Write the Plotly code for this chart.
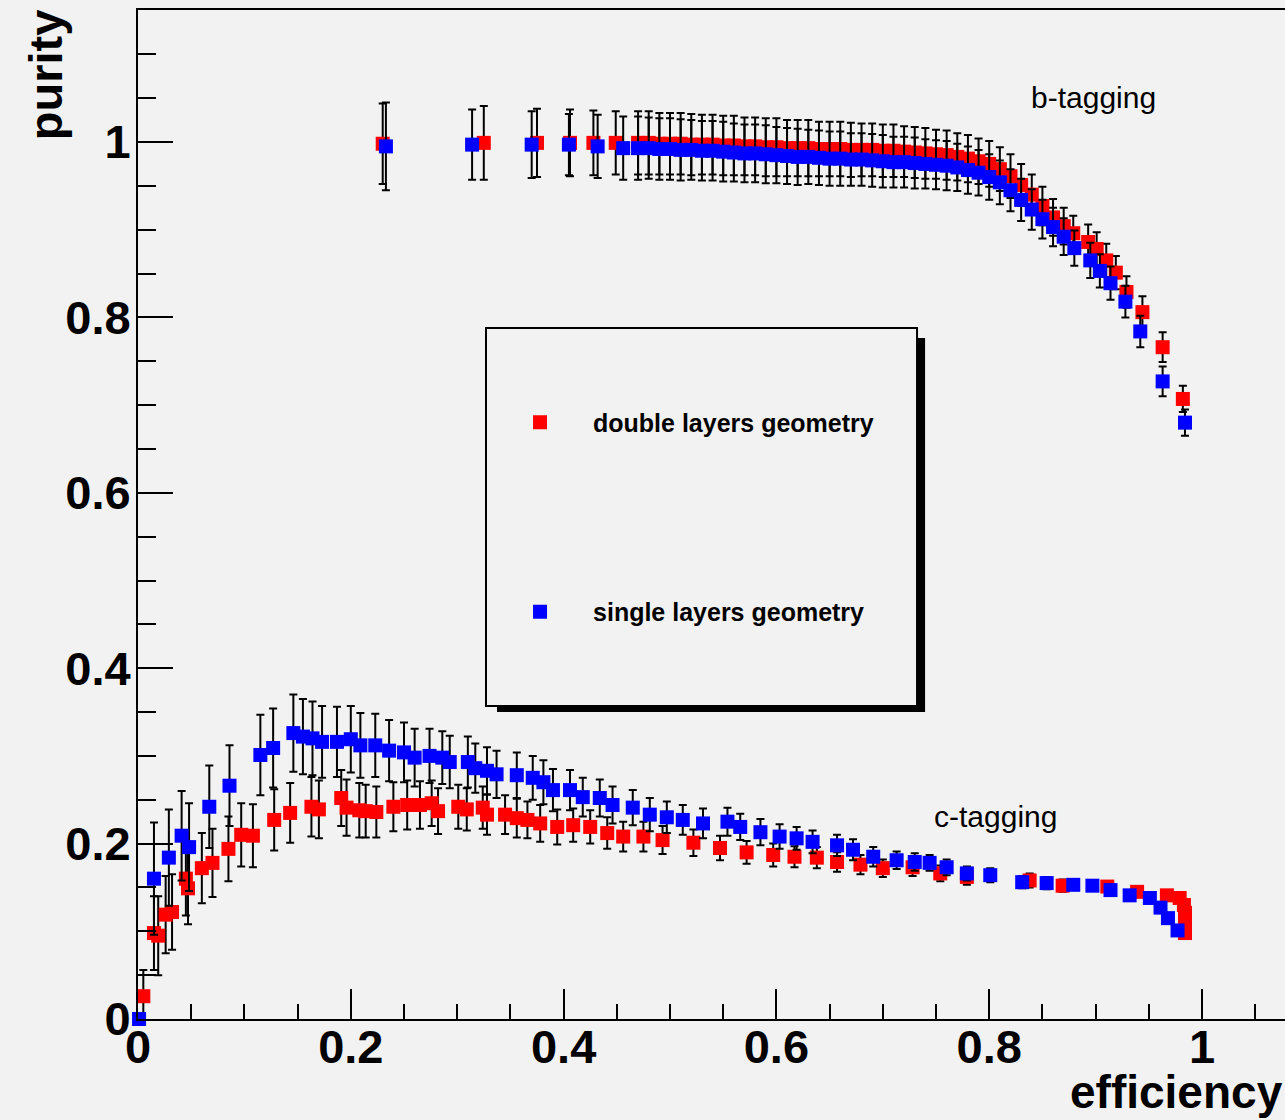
import plotly.graph_objects as go

# b-tagging, double layers geometry (red)
b_double_eff = [0.230, 0.325, 0.375, 0.406, 0.428, 0.449,
                0.47, 0.48, 0.49, 0.50, 0.51, 0.52, 0.53, 0.54, 0.55, 0.56,
                0.57, 0.58, 0.59, 0.60, 0.61, 0.62, 0.63, 0.64, 0.65, 0.66,
                0.67, 0.68, 0.69, 0.70, 0.71, 0.72, 0.73, 0.74, 0.75, 0.76,
                0.77, 0.78, 0.79, 0.80, 0.81, 0.82, 0.83, 0.84, 0.85, 0.86, 0.87,
                0.879, 0.893, 0.901, 0.910, 0.919, 0.929, 0.944, 0.963, 0.982]
b_double_pur = [0.998, 0.999, 0.999, 0.999, 0.999, 0.999,
                0.999, 0.999, 0.998, 0.998, 0.998, 0.997, 0.997, 0.997, 0.996, 0.996,
                0.995, 0.995, 0.994, 0.994, 0.993, 0.993, 0.993, 0.992, 0.992, 0.992,
                0.991, 0.991, 0.991, 0.990, 0.990, 0.989, 0.988, 0.987, 0.986, 0.985,
                0.983, 0.981, 0.978, 0.975, 0.969, 0.961, 0.951, 0.940, 0.927, 0.914, 0.904,
                0.896, 0.886, 0.878, 0.865, 0.851, 0.829, 0.806, 0.766, 0.707]
b_double_err = [0.046, 0.042, 0.039, 0.038, 0.037, 0.036,
                0.036, 0.036, 0.035, 0.035, 0.035, 0.035, 0.034, 0.034, 0.034, 0.034,
                0.033, 0.033, 0.033, 0.033, 0.032, 0.032, 0.032, 0.031, 0.031, 0.031,
                0.031, 0.030, 0.030, 0.030, 0.030, 0.029, 0.029, 0.029, 0.028, 0.028,
                0.027, 0.027, 0.026, 0.026, 0.025, 0.025, 0.024, 0.023, 0.022, 0.021, 0.021,
                0.020, 0.020, 0.019, 0.019, 0.019, 0.018, 0.018, 0.017, 0.015]

# b-tagging, single layers geometry (blue)
b_single_eff = [0.233, 0.314, 0.370, 0.405, 0.432, 0.456,
                0.47, 0.48, 0.49, 0.50, 0.51, 0.52, 0.53, 0.54, 0.55, 0.56,
                0.57, 0.58, 0.59, 0.60, 0.61, 0.62, 0.63, 0.64, 0.65, 0.66,
                0.67, 0.68, 0.69, 0.70, 0.71, 0.72, 0.73, 0.74, 0.75, 0.76,
                0.77, 0.78, 0.79, 0.80, 0.81, 0.82, 0.83, 0.84, 0.85, 0.86, 0.87, 0.88,
                0.895, 0.904, 0.914, 0.928, 0.942, 0.963, 0.984]
b_single_pur = [0.995, 0.997, 0.997, 0.997, 0.995, 0.993,
                0.993, 0.993, 0.992, 0.992, 0.991, 0.991, 0.990, 0.990, 0.989, 0.988,
                0.987, 0.987, 0.986, 0.985, 0.984, 0.983, 0.983, 0.982, 0.981, 0.981,
                0.980, 0.980, 0.979, 0.978, 0.977, 0.977, 0.976, 0.975, 0.974, 0.973,
                0.971, 0.968, 0.965, 0.960, 0.954, 0.945, 0.934, 0.923, 0.912, 0.903, 0.892, 0.879,
                0.865, 0.853, 0.839, 0.818, 0.784, 0.727, 0.680]
b_single_err = [0.050, 0.040, 0.038, 0.035, 0.036, 0.036,
                0.036, 0.035, 0.035, 0.035, 0.035, 0.034, 0.034, 0.034, 0.034, 0.033,
                0.033, 0.033, 0.033, 0.032, 0.032, 0.032, 0.031, 0.031, 0.031, 0.031,
                0.030, 0.030, 0.030, 0.030, 0.029, 0.029, 0.029, 0.028, 0.028, 0.028,
                0.027, 0.027, 0.026, 0.026, 0.025, 0.024, 0.024, 0.023, 0.022, 0.022, 0.021, 0.020,
                0.020, 0.019, 0.019, 0.018, 0.018, 0.017, 0.015]

# c-tagging, double layers geometry (red)
c_double_eff = [0.005, 0.015, 0.019, 0.026, 0.032, 0.045, 0.047, 0.060, 0.070, 0.085,
                0.097, 0.108, 0.128, 0.143, 0.163, 0.170, 0.191, 0.196, 0.208, 0.214,
                0.224, 0.240, 0.253, 0.265, 0.276, 0.282, 0.301, 0.309, 0.324, 0.328,
                0.345, 0.356, 0.366, 0.378, 0.394, 0.409, 0.425, 0.441, 0.456, 0.475,
                0.493, 0.522, 0.547, 0.572, 0.597, 0.617, 0.638, 0.657, 0.679, 0.700,
                0.728, 0.754, 0.779, 0.838, 0.869, 0.911, 0.939, 0.967, 0.979, 0.983,
                0.984, 0.984, 0.984]
c_double_pur = [0.026, 0.098, 0.095, 0.119, 0.122, 0.160, 0.149, 0.172, 0.178, 0.194,
                0.210, 0.209, 0.227, 0.235, 0.242, 0.239, 0.252, 0.241, 0.238, 0.237,
                0.236, 0.242, 0.244, 0.244, 0.246, 0.237, 0.242, 0.239, 0.241, 0.233,
                0.233, 0.229, 0.227, 0.223, 0.219, 0.221, 0.219, 0.212, 0.208, 0.208,
                0.204, 0.201, 0.195, 0.190, 0.187, 0.185, 0.184, 0.179, 0.176, 0.172,
                0.173, 0.166, 0.162, 0.158, 0.152, 0.151, 0.145, 0.141, 0.138, 0.130,
                0.121, 0.109, 0.098]
c_double_err = [0.030, 0.042, 0.045, 0.044, 0.043, 0.042, 0.041, 0.040, 0.039, 0.037,
                0.036, 0.036, 0.035, 0.034, 0.034, 0.033, 0.032, 0.032, 0.031, 0.030,
                0.029, 0.028, 0.028, 0.027, 0.026, 0.026, 0.025, 0.024, 0.024, 0.023,
                0.022, 0.022, 0.021, 0.021, 0.020, 0.019, 0.019, 0.018, 0.017, 0.017,
                0.016, 0.015, 0.014, 0.013, 0.013, 0.012, 0.012, 0.011, 0.011, 0.010,
                0.010, 0.009, 0.009, 0.008, 0.007, 0.006, 0.006, 0.005, 0.005, 0.005,
                0.005, 0.004, 0.004]

# c-tagging, single layers geometry (blue)
c_single_eff = [0.001, 0.015, 0.029, 0.041, 0.048, 0.067, 0.086, 0.115, 0.127, 0.146,
                0.155, 0.164, 0.173, 0.187, 0.200, 0.209, 0.223, 0.236, 0.250, 0.260,
                0.274, 0.286, 0.293, 0.310, 0.317, 0.328, 0.337, 0.356, 0.371, 0.381,
                0.390, 0.406, 0.418, 0.434, 0.446, 0.465, 0.481, 0.497, 0.512, 0.531,
                0.554, 0.566, 0.585, 0.603, 0.619, 0.634, 0.657, 0.672, 0.691, 0.713,
                0.730, 0.744, 0.760, 0.779, 0.801, 0.831, 0.854, 0.879, 0.897, 0.914,
                0.932, 0.951, 0.961, 0.968, 0.977]
c_single_pur = [0.000, 0.160, 0.184, 0.209, 0.196, 0.242, 0.266, 0.301, 0.309, 0.326,
                0.322, 0.320, 0.316, 0.316, 0.319, 0.312, 0.312, 0.306, 0.304, 0.298,
                0.300, 0.298, 0.293, 0.293, 0.286, 0.283, 0.279, 0.278, 0.275, 0.270,
                0.261, 0.261, 0.253, 0.252, 0.244, 0.241, 0.233, 0.230, 0.227, 0.223,
                0.225, 0.219, 0.213, 0.208, 0.206, 0.202, 0.198, 0.193, 0.185, 0.181,
                0.179, 0.178, 0.173, 0.166, 0.164, 0.156, 0.155, 0.153, 0.152, 0.147,
                0.141, 0.138, 0.127, 0.115, 0.101]
c_single_err = [0.000, 0.064, 0.055, 0.051, 0.050, 0.047, 0.046, 0.046, 0.045, 0.044,
                0.043, 0.042, 0.041, 0.040, 0.038, 0.037, 0.036, 0.035, 0.034, 0.033,
                0.031, 0.030, 0.030, 0.029, 0.028, 0.027, 0.027, 0.026, 0.025, 0.025,
                0.024, 0.023, 0.022, 0.021, 0.021, 0.020, 0.019, 0.018, 0.017, 0.017,
                0.016, 0.015, 0.015, 0.014, 0.013, 0.013, 0.012, 0.012, 0.011, 0.010,
                0.010, 0.009, 0.009, 0.008, 0.008, 0.007, 0.007, 0.006, 0.006, 0.006,
                0.005, 0.005, 0.005, 0.005, 0.005]

RED = '#ff0000'
BLUE = '#0000ff'
BG = '#f2f2f2'
BOLD = dict(family='Liberation Sans, Arial, sans-serif', weight='bold', color='black')


def series(x, y, err, color, name, group, show):
	return go.Scatter(
		x=x, y=y, mode='markers', name=name,
		legendgroup=group, showlegend=show, cliponaxis=False,
		marker=dict(symbol='square', size=14, color=color, line=dict(width=0)),
		error_y=dict(type='data', array=err, visible=True, color='black', thickness=2, width=4),
	)


fig = go.Figure()
fig.add_trace(series(b_double_eff, b_double_pur, b_double_err, RED, 'double layers geometry', 'double', True))
fig.add_trace(series(c_double_eff, c_double_pur, c_double_err, RED, 'double layers geometry', 'double', False))
fig.add_trace(series(b_single_eff, b_single_pur, b_single_err, BLUE, 'single layers geometry', 'single', True))
fig.add_trace(series(c_single_eff, c_single_pur, c_single_err, BLUE, 'single layers geometry', 'single', False))

# legend frame with ROOT-like shadow
fig.add_shape(type='rect', xref='paper', yref='paper', x0=0.3130, x1=0.6862, y0=0.3043, y1=0.6749,
              fillcolor='black', line=dict(width=0), layer='above')
fig.add_shape(type='rect', xref='paper', yref='paper', x0=0.3034, x1=0.6792, y0=0.3102, y1=0.6848,
              fillcolor=BG, line=dict(color='black', width=2), layer='above')

fig.add_annotation(x=0.898, y=1.051, xref='x', yref='y', text='b-tagging', showarrow=False,
                   font=dict(family='Liberation Sans, Arial, sans-serif', size=30, color='black'))
fig.add_annotation(x=0.806, y=0.231, xref='x', yref='y', text='c-tagging', showarrow=False,
                   font=dict(family='Liberation Sans, Arial, sans-serif', size=30, color='black'))
fig.add_annotation(x=1.0, y=-0.1005, xref='paper', yref='paper', xanchor='right', yanchor='bottom',
                   text='efficiency', showarrow=False, font=dict(BOLD, size=46))
fig.add_annotation(x=-0.0800, y=0.9356, xref='paper', yref='paper', xanchor='center', yanchor='middle',
                   text='purity', textangle=-90, showarrow=False, font=dict(BOLD, size=47))

fig.update_layout(
	width=1285, height=1120,
	margin=dict(l=138, r=0, t=10, b=101, autoexpand=False),
	paper_bgcolor=BG, plot_bgcolor=BG,
	showlegend=True,
	legend=dict(x=0.3043, y=0.614, xanchor='left', yanchor='top', bgcolor='rgba(0,0,0,0)',
	            borderwidth=0, traceorder='grouped', tracegroupgap=154, itemwidth=96,
	            font=dict(BOLD, size=25)),
)
fig.update_xaxes(
	range=[0, 1.078], showgrid=False, zeroline=False,
	showline=True, linecolor='black', linewidth=2, mirror=True,
	ticks='inside', ticklen=30, tickwidth=2, tickcolor='black',
	tick0=0, dtick=0.2, tickfont=dict(BOLD, size=47), ticklabelstandoff=-14,
	minor=dict(ticks='inside', ticklen=15, tickwidth=2, tickcolor='black', dtick=0.05, showgrid=False),
)
fig.update_yaxes(
	range=[0, 1.1505], showgrid=False, zeroline=False,
	showline=True, linecolor='black', linewidth=2,
	ticks='inside', ticklen=35, tickwidth=2, tickcolor='black',
	tick0=0, dtick=0.2, tickfont=dict(BOLD, size=47), ticklabelstandoff=-4,
	minor=dict(ticks='inside', ticklen=18, tickwidth=2, tickcolor='black', dtick=0.05, showgrid=False),
)

# drop the default page margin so the figure sits at the window corner
fig.write_html('out.html', config={'displayModeBar': False},
               post_script="document.body.style.margin='0';")
